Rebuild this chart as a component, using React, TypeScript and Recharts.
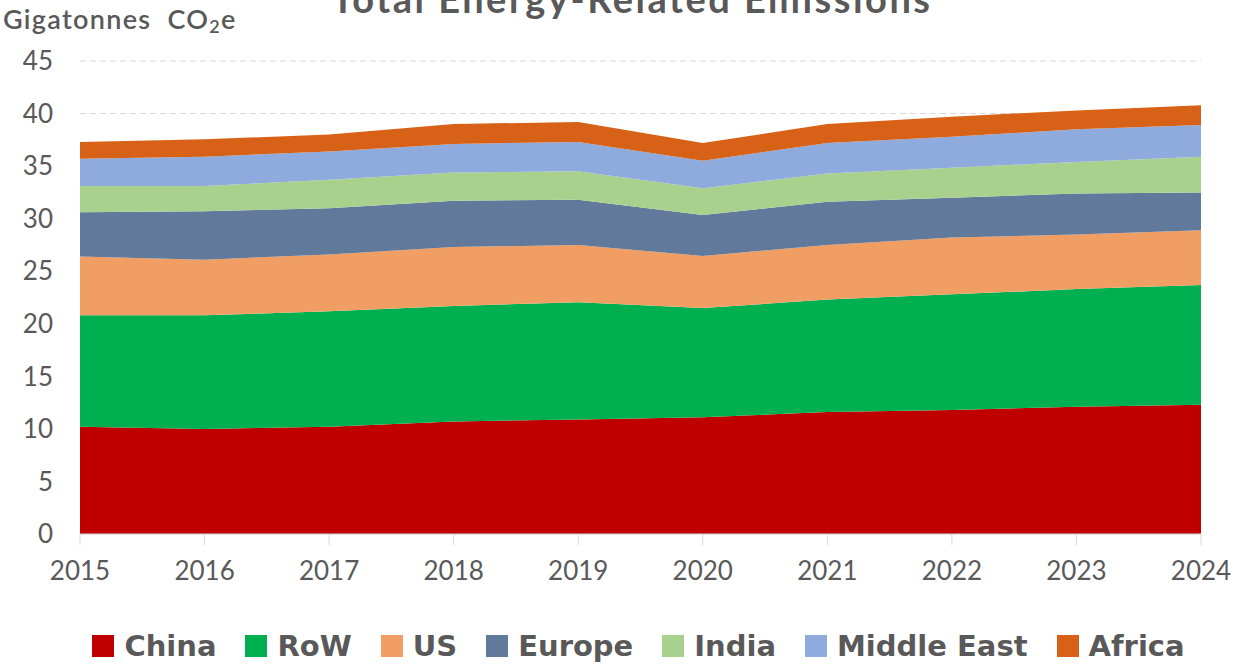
import React from "react";
import { AreaChart, Area, XAxis, YAxis, CartesianGrid, Legend } from "recharts";

const years = ["2015", "2016", "2017", "2018", "2019", "2020", "2021", "2022", "2023", "2024"];
const china = [10.2, 10.0, 10.2, 10.7, 10.9, 11.1, 11.6, 11.8, 12.1, 12.3];
const row = [10.6, 10.8, 11.0, 11.0, 11.15, 10.4, 10.7, 11.0, 11.2, 11.4];
const us = [5.6, 5.3, 5.4, 5.6, 5.45, 4.95, 5.2, 5.4, 5.2, 5.2];
const europe = [4.2, 4.6, 4.4, 4.4, 4.3, 3.9, 4.1, 3.8, 3.9, 3.6];
const india = [2.5, 2.4, 2.7, 2.7, 2.7, 2.55, 2.7, 2.85, 3.0, 3.4];
const middleEast = [2.6, 2.8, 2.7, 2.7, 2.8, 2.6, 2.9, 2.95, 3.1, 3.0];
const africa = [1.6, 1.65, 1.6, 1.9, 1.9, 1.7, 1.8, 1.9, 1.8, 1.9];
const yTicks = [0, 5, 10, 15, 20, 25, 30, 35, 40, 45];

const series = [
  { key: "China", values: china, color: "#C00000" },
  { key: "RoW", values: row, color: "#00B050" },
  { key: "US", values: us, color: "#F09E64" },
  { key: "Europe", values: europe, color: "#61799A" },
  { key: "India", values: india, color: "#A9D18E" },
  { key: "Middle East", values: middleEast, color: "#8FAADC" },
  { key: "Africa", values: africa, color: "#D76116" },
];

const data = years.map((y, i) => {
  const o: Record<string, string | number> = { year: y };
  series.forEach((s) => {
    o[s.key] = s.values[i];
  });
  return o;
});

const FONT = "Lato, 'Open Sans', sans-serif";
const TEXT = "#595959";

const LegendContent = () => (
  <div
    style={{
      display: "flex",
      justifyContent: "center",
      alignItems: "center",
      height: 36,
      paddingLeft: 76,
      boxSizing: "border-box",
      fontFamily: "'DejaVu Sans', sans-serif",
      fontWeight: 700,
      fontSize: 29,
      color: TEXT,
    }}
  >
    {series.map((s, i) => (
      <div
        key={s.key}
        style={{ display: "flex", alignItems: "center", marginLeft: i === 0 ? 0 : 29 }}
      >
        <div style={{ width: 22, height: 22, background: s.color, marginRight: 10 }} />
        <span style={{ lineHeight: "36px" }}>{s.key}</span>
      </div>
    ))}
  </div>
);

export default function App() {
  return (
    <div style={{ position: "relative", width: 1242, height: 670, background: "#fff" }}>
      <style>{`body{margin:0}`}</style>
      <div
        style={{
          position: "absolute",
          left: 0,
          width: 1264,
          top: -25,
          textAlign: "center",
          fontFamily: FONT,
          fontWeight: 700,
          fontSize: 38,
          letterSpacing: 2.5,
          color: TEXT,
          whiteSpace: "nowrap",
          zIndex: 2,
        }}
      >
        Total Energy-Related Emissions
      </div>
      <div
        style={{
          position: "absolute",
          left: 3,
          top: 2,
          fontFamily: FONT,
          fontWeight: 600,
          fontSize: 27,
          letterSpacing: 1.3,
          color: TEXT,
          whiteSpace: "nowrap",
          zIndex: 2,
        }}
      >
        Gigatonnes&nbsp; CO<sub style={{ fontSize: 18, verticalAlign: -4 }}>2</sub>e
      </div>
      <AreaChart
        width={1242}
        height={670}
        data={data}
        margin={{ top: 61, right: 41, left: 0, bottom: 6 }}
      >
        <CartesianGrid
          horizontal={true}
          vertical={false}
          stroke="#D9D9D9"
          strokeDasharray="6 4"
        />
        <XAxis
          dataKey="year"
          height={94}
          tickSize={11}
          tickMargin={17}
          stroke="#D9D9D9"
          tick={{ fill: TEXT, fontSize: 26, fontFamily: FONT }}
          interval={0}
        />
        <YAxis
          width={80}
          domain={[0, 45]}
          ticks={yTicks}
          axisLine={false}
          tickLine={false}
          tickSize={0}
          tickMargin={27}
          tick={{ fill: TEXT, fontSize: 26, fontFamily: FONT }}
          interval={0}
        />
        {series.map((s) => (
          <Area
            key={s.key}
            type="linear"
            dataKey={s.key}
            stackId="1"
            stroke="none"
            fill={s.color}
            fillOpacity={1}
            isAnimationActive={false}
          />
        ))}
        <Legend verticalAlign="bottom" content={<LegendContent />} />
      </AreaChart>
    </div>
  );
}
